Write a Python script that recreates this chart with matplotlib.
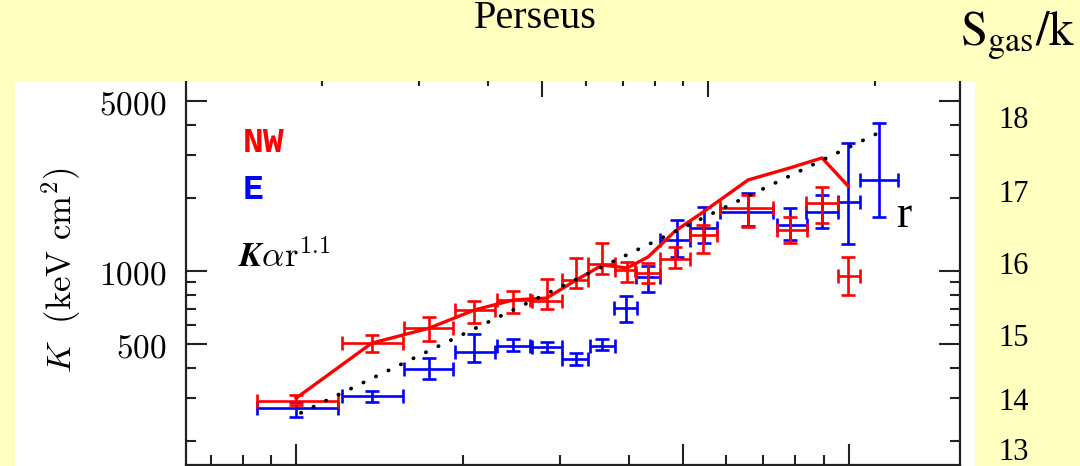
import matplotlib
matplotlib.use('Agg')
import matplotlib.pyplot as plt
from matplotlib.patches import Rectangle
from matplotlib.ticker import FixedLocator, NullFormatter, FuncFormatter

# Entropy profile of Perseus along two arms (radius, K in keV cm^2)
nw_r = [10.0, 13.7, 17.4, 21.0, 24.7, 28.4, 32.1, 35.8, 39.7, 43.3, 48.5, 54.5, 65.7, 78.2, 89.4, 99.6]
nw_r_lo = [8.5, 12.1, 15.7, 19.4, 23.1, 26.7, 30.3, 33.7, 37.8, 41.2, 45.5, 51.6, 58.4, 74.1, 83.6, 95.5]
nw_r_hi = [11.9, 15.6, 19.2, 22.9, 26.5, 30.3, 33.7, 37.8, 41.0, 45.5, 51.6, 57.7, 72.9, 84.0, 95.5, 104.7]
nw_K = [292, 505, 582, 691, 760, 753, 918, 1069, 1010, 981, 1121, 1406, 1816, 1475, 1905, 954]
nw_K_lo = [281, 464, 515, 611, 671, 698, 851, 972, 901, 893, 1029, 1186, 1517, 1304, 1576, 797]
nw_K_hi = [309, 546, 647, 753, 827, 927, 1131, 1304, 1089, 1079, 1256, 1546, 2055, 1668, 2216, 1142]

e_r = [10.0, 13.7, 17.4, 21.0, 24.7, 28.4, 32.1, 35.8, 39.5, 43.3, 48.9, 54.7, 65.7, 78.2, 89.4, 99.6, 113.3]
e_r_lo = [8.5, 12.1, 15.7, 19.4, 23.1, 26.7, 30.3, 34.0, 37.6, 41.2, 45.5, 51.6, 58.4, 74.1, 83.6, 95.5, 104.7]
e_r_hi = [11.9, 15.6, 19.2, 22.9, 26.5, 30.3, 33.7, 37.8, 41.4, 45.5, 51.6, 57.7, 72.9, 84.0, 95.5, 104.5, 122.7]
e_K = [273, 306, 395, 464, 491, 486, 434, 491, 705, 945, 1342, 1503, 1749, 1546, 1749, 1923, 2369]
e_K_lo = [251, 289, 359, 422, 469, 464, 410, 473, 617, 819, 1142, 1304, 1531, 1342, 1503, 1291, 1668]
e_K_hi = [289, 321, 438, 551, 525, 510, 460, 525, 789, 1048, 1622, 1833, 2094, 1816, 2055, 3363, 4064]

# NW model profile (solid line)
model_r = [10.0, 13.7, 17.4, 21.0, 24.7, 28.4, 32.1, 35.8, 39.7, 43.3, 48.5, 54.5, 65.7, 78.2, 89.4, 99.6]
model_K = [300, 505, 582, 691, 760, 774, 918, 1058, 1029, 1142, 1461, 1749, 2369, 2655, 2918, 2239]

# K ~ r^1.1 reference, end points
pl_r = [10.2, 112.0]
pl_K = [261, 3660]

# Axis ticks
y_major = [500, 1000, 5000]
y_minor = [200, 300, 400, 600, 700, 800, 900, 2000, 3000, 4000]
x_major = [10, 50, 100]
x_minor = [7, 8, 9, 20, 30, 40, 60, 70, 80, 90]
top_major = [5, 10]
top_minor = [2, 3, 4, 6, 7, 8, 9, 20]
top_factor = 5.57

# Labels of the neighbouring scale on the right
side_labels = ['18', '17', '16', '15', '14', '13']
side_label_y = [121, 195, 267, 339, 402, 453]

plt.rcParams['mathtext.fontset'] = 'cm'
YELLOW = '#ffffc0'
W, H = 1080, 466


def asym(c, lo, hi):
    return [[a - b for a, b in zip(c, lo)], [b - a for a, b in zip(c, hi)]]


fig = plt.figure(figsize=(W / 100, H / 100), dpi=100, facecolor=YELLOW)

# white panel behind the plot
fig.add_artist(Rectangle((15 / W, 0), 960 / W, (H - 81) / H, transform=fig.transFigure,
                         facecolor='white', edgecolor='none', zorder=-1))

ax = fig.add_axes([186 / W, 1.5 / H, 774 / W, 388.5 / H])
ax.set_xscale('log')
ax.set_yscale('log')
ax.set_xlim(6.32, 158.8)
ax.set_ylim(160, 6340)

ax.errorbar(e_r, e_K, xerr=asym(e_r, e_r_lo, e_r_hi), yerr=asym(e_K, e_K_lo, e_K_hi),
            fmt='none', ecolor='#0000ff', elinewidth=1.9, capsize=5, capthick=1.9)
ax.errorbar(nw_r, nw_K, xerr=asym(nw_r, nw_r_lo, nw_r_hi), yerr=asym(nw_K, nw_K_lo, nw_K_hi),
            fmt='none', ecolor='#ff0000', elinewidth=1.9, capsize=5, capthick=1.9)
ax.plot(model_r, model_K, color='#ff0000', lw=2.4)
ax.plot(pl_r, pl_K, color='black', lw=2.7, linestyle=(0, (0.1, 3.6)), dash_capstyle='round')

# ticks
ax.yaxis.set_major_locator(FixedLocator(y_major))
ax.yaxis.set_minor_locator(FixedLocator(y_minor))
ax.yaxis.set_major_formatter(FuncFormatter(lambda v, p: r'$%d$' % v))
ax.yaxis.set_minor_formatter(NullFormatter())
ax.xaxis.set_major_locator(FixedLocator(x_major))
ax.xaxis.set_minor_locator(FixedLocator(x_minor))
ax.xaxis.set_major_formatter(NullFormatter())
ax.xaxis.set_minor_formatter(NullFormatter())
ax.tick_params(which='both', direction='in', right=True, top=False, width=1.5, color='#222222')
ax.tick_params(which='major', length=15, pad=14, labelsize=24)
ax.tick_params(which='minor', length=7.5)
for s in ax.spines.values():
    s.set_linewidth(1.6)
    s.set_color('#222222')

top = ax.secondary_xaxis('top', functions=(lambda x: x / top_factor, lambda x: x * top_factor))
top.xaxis.set_major_locator(FixedLocator(top_major))
top.xaxis.set_minor_locator(FixedLocator(top_minor))
top.xaxis.set_major_formatter(NullFormatter())
top.xaxis.set_minor_formatter(NullFormatter())
top.tick_params(which='both', direction='in', width=1.5, color='#222222')
top.tick_params(which='major', length=15)
top.tick_params(which='minor', length=7.5)

ax.set_ylabel(r'$K\ \ (\mathrm{keV\ cm}^2)$', fontsize=25, labelpad=12)

# legend text
ax.text(0.0736, 0.804, 'NW', transform=ax.transAxes, color='#ff0000', fontsize=25,
        family='Liberation Mono', weight='bold', va='baseline')
ax.text(0.0736, 0.683, 'E', transform=ax.transAxes, color='#0000ff', fontsize=25,
        family='Liberation Mono', weight='bold', va='baseline')
ax.text(0.067, 0.508, r'$\boldsymbol{K}\alpha\mathrm{r}^{\mathbf{1.1}}$', transform=ax.transAxes,
        color='black', fontsize=25, va='baseline')

# yellow band hiding the top of the frame
fig.add_artist(Rectangle((0, (H - 81) / H), 1, 81 / H, transform=fig.transFigure,
                         facecolor=YELLOW, edgecolor='none', zorder=1))

fig.text(535 / W, (H - 28) / H, 'Perseus', family='Liberation Serif', fontsize=29,
         ha='center', va='baseline', zorder=3)
fig.text(960 / W, (H - 45) / H, r'$\mathrm{S}_{\mathrm{gas}}/\mathrm{k}$', math_fontfamily='stix',
         fontsize=35, ha='left', va='baseline', zorder=3)
for lab, yy in zip(side_labels, side_label_y):
    fig.text(998 / W, (H - yy) / H, lab, family='Liberation Serif', fontsize=22,
             ha='left', va='center', zorder=3)
fig.text(896 / W, (H - 227) / H, 'r', family='Liberation Serif', fontsize=33,
         ha='left', va='baseline', zorder=3)

fig.savefig('out.png', dpi=100, facecolor=YELLOW)
